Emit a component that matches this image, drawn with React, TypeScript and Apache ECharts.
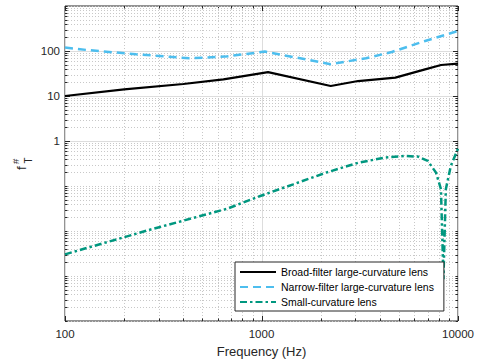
import React, { useEffect, useRef } from 'react';
import * as echarts from 'echarts';

// Transfer-function magnitude of the three lens designs (frequency in Hz)
const freqBroad = [100, 200, 400, 640, 1080, 2250, 3100, 4800, 6800, 8200, 10000];
const broadVals = [10, 14, 18.5, 23.5, 34, 16.7, 21.5, 25.6, 39, 48.9, 52.5];

const freqNarrow = [100, 130, 230, 430, 650, 1040, 2250, 3400, 4600, 6800, 9600, 10000];
const narrowVals = [119, 105, 84.5, 69, 75, 97, 51, 69, 95, 167, 264, 281];

const freqSmall = [100, 267, 672, 986, 1450, 2128, 3127, 4255, 5360, 6250, 7020, 7730, 8190, 8430, 8670, 9190, 10000];
const smallVals = [0.00303, 0.0105, 0.0315, 0.06, 0.109, 0.198, 0.331, 0.428, 0.464, 0.45, 0.36, 0.198, 0.0845, 0.00085, 0.085, 0.278, 0.68];

const seriesNames = [
  'Broad-filter large-curvature lens',
  'Narrow-filter large-curvature lens',
  'Small-curvature lens',
];

// Axis ticks
const xLabelTicks = [100, 1000, 10000];
const xLabelTexts = ['100', '1000', '10000'];
const yLabelTicks = [1, 10, 100];
const yLabelTexts = ['1', '10', '100'];
const xDecades = [100, 1000];
const yDecades = [0.0001, 0.001, 0.01, 0.1, 1, 10, 100];
const decadeSteps = [1, 2, 3, 4, 5, 6, 7, 8, 9];

const X_MIN = 100;
const X_MAX = 10000;
const Y_MIN = 0.0001;
const Y_MAX = 1000;

const FONT = '"Liberation Sans", Arial, Helvetica, sans-serif';
const AXIS_COLOR = '#262626';

const sameDecadeValue = (a: number, b: number) => Math.abs(Math.log10(a) - Math.log10(b)) < 1e-6;

function tickValues(decades: number[], top: number, labelled: number[]) {
  const vals: number[] = [];
  decades.forEach((d) => decadeSteps.forEach((m) => vals.push(d * m)));
  vals.push(top);
  return vals.map((v) => [v, labelled.some((t) => sameDecadeValue(t, v)) ? 1 : 0]);
}

const xTickData = tickValues(xDecades, X_MAX, xLabelTicks).map(([v, major]) => [v, 1, major]);
const yTickData = tickValues(yDecades, Y_MAX, yLabelTicks).map(([v, major]) => [1000, v, major]);

// Grid lines and inward tick marks on all four sides
const gridRender = (dim: 'x' | 'y') => (params: any, api: any) => {
  const cs = params.coordSys;
  const v = api.value(dim === 'x' ? 0 : 1);
  const major = api.value(2) === 1;
  const pt = api.coord(dim === 'x' ? [v, 1] : [1000, v]);
  const gridStyle = major
    ? { stroke: '#dddddd', lineWidth: 1 }
    : { stroke: '#c8c8c8', lineWidth: 1, lineDash: [1, 2] };
  const tickStyle = { stroke: AXIS_COLOR, lineWidth: 1 };
  const len = major ? 5 : 2.5;
  const children: any[] = [];
  if (dim === 'x') {
    const x = Math.round(pt[0]) + 0.5;
    const y0 = cs.y;
    const y1 = cs.y + cs.height;
    children.push({ type: 'line', shape: { x1: x, y1: y0, x2: x, y2: y1 }, style: gridStyle });
    children.push({ type: 'line', shape: { x1: x, y1: y1, x2: x, y2: y1 - len }, style: tickStyle });
    children.push({ type: 'line', shape: { x1: x, y1: y0, x2: x, y2: y0 + len }, style: tickStyle });
  } else {
    const y = Math.round(pt[1]) + 0.5;
    const x0 = cs.x;
    const x1 = cs.x + cs.width;
    children.push({ type: 'line', shape: { x1: x0, y1: y, x2: x1, y2: y }, style: gridStyle });
    children.push({ type: 'line', shape: { x1: x0, y1: y, x2: x0 + len, y2: y }, style: tickStyle });
    children.push({ type: 'line', shape: { x1: x1, y1: y, x2: x1 - len, y2: y }, style: tickStyle });
  }
  return { type: 'group', children };
};

const pairs = (xs: number[], ys: number[]) => xs.map((x, i) => [x, ys[i]]);

export default function App() {
  const ref = useRef<HTMLDivElement>(null);

  useEffect(() => {
    if (!ref.current) return;
    const chart = echarts.init(ref.current, null, { renderer: 'svg' });
    chart.setOption({
      animation: false,
      backgroundColor: '#ffffff',
      textStyle: { fontFamily: FONT },
      grid: {
        left: 65,
        right: 13,
        top: 6,
        bottom: 42,
        show: true,
        borderColor: AXIS_COLOR,
        borderWidth: 1,
        backgroundColor: 'transparent',
      },
      xAxis: {
        type: 'log',
        logBase: 10,
        min: X_MIN,
        max: X_MAX,
        splitNumber: 2,
        name: 'Frequency (Hz)',
        nameLocation: 'middle',
        nameGap: 24,
        nameTextStyle: { fontSize: 13, color: AXIS_COLOR, fontFamily: FONT },
        axisLine: { show: false },
        axisTick: { show: false },
        splitLine: { show: false },
        axisLabel: {
          margin: 7,
          fontSize: 11.5,
          color: AXIS_COLOR,
          fontFamily: FONT,
          formatter: (v: number) => {
            const i = xLabelTicks.findIndex((t) => sameDecadeValue(t, v));
            return i >= 0 ? xLabelTexts[i] : '';
          },
        },
      },
      yAxis: {
        type: 'log',
        logBase: 10,
        min: Y_MIN,
        max: Y_MAX,
        splitNumber: 7,
        axisLine: { show: false },
        axisTick: { show: false },
        splitLine: { show: false },
        axisLabel: {
          margin: 5,
          fontSize: 11.5,
          color: AXIS_COLOR,
          fontFamily: FONT,
          formatter: (v: number) => {
            const i = yLabelTicks.findIndex((t) => sameDecadeValue(t, v));
            return i >= 0 ? yLabelTexts[i] : '';
          },
        },
      },
      legend: {
        data: seriesNames,
        orient: 'vertical',
        left: 235,
        top: 262,
        itemWidth: 36,
        itemHeight: 12,
        itemGap: 3,
        padding: [4, 10, 3, 4],
        borderColor: AXIS_COLOR,
        borderWidth: 1,
        backgroundColor: '#ffffff',
        itemStyle: { opacity: 0, borderWidth: 0 },
        textStyle: { fontSize: 10.5, color: '#000000', fontFamily: FONT, lineHeight: 12 },
        selectedMode: false,
      },
      graphic: [
        {
          type: 'group',
          x: 25.5,
          y: 170,
          rotation: Math.PI / 2,
          children: [
            { type: 'text', x: 0, y: -4, style: { text: 'f', fontSize: 13.5, fill: AXIS_COLOR, fontFamily: FONT, align: 'left', verticalAlign: 'middle' } },
            { type: 'text', x: 6, y: -10.5, style: { text: '#', fontSize: 9.5, fill: AXIS_COLOR, fontFamily: FONT, align: 'left', verticalAlign: 'middle' } },
            { type: 'text', x: 6.5, y: 2.5, style: { text: 'T', fontSize: 10, fill: AXIS_COLOR, fontFamily: FONT, align: 'left', verticalAlign: 'middle' } },
          ],
        },
      ],
      series: [
        {
          type: 'custom',
          name: 'xgrid',
          silent: true,
          z: 1,
          clip: false,
          renderItem: gridRender('x'),
          data: xTickData,
        },
        {
          type: 'custom',
          name: 'ygrid',
          silent: true,
          z: 1,
          clip: false,
          renderItem: gridRender('y'),
          data: yTickData,
        },
        {
          type: 'line',
          name: seriesNames[0],
          data: pairs(freqBroad, broadVals),
          symbol: 'none',
          z: 3,
          itemStyle: { color: '#000000' },
          lineStyle: { color: '#000000', width: 2.2, type: 'solid' },
        },
        {
          type: 'line',
          name: seriesNames[1],
          data: pairs(freqNarrow, narrowVals),
          symbol: 'none',
          z: 3,
          itemStyle: { color: '#4dbeee' },
          lineStyle: { color: '#4dbeee', width: 2.5, type: [8, 5] },
        },
        {
          type: 'line',
          name: seriesNames[2],
          data: pairs(freqSmall, smallVals),
          symbol: 'none',
          z: 3,
          itemStyle: { color: '#00977f' },
          lineStyle: { color: '#00977f', width: 2.5, type: [7, 3, 2.5, 3] },
        },
      ],
    });
    return () => chart.dispose();
  }, []);

  return <div ref={ref} style={{ width: 477, height: 363, position: 'absolute', left: 0, top: 0 }} />;
}
